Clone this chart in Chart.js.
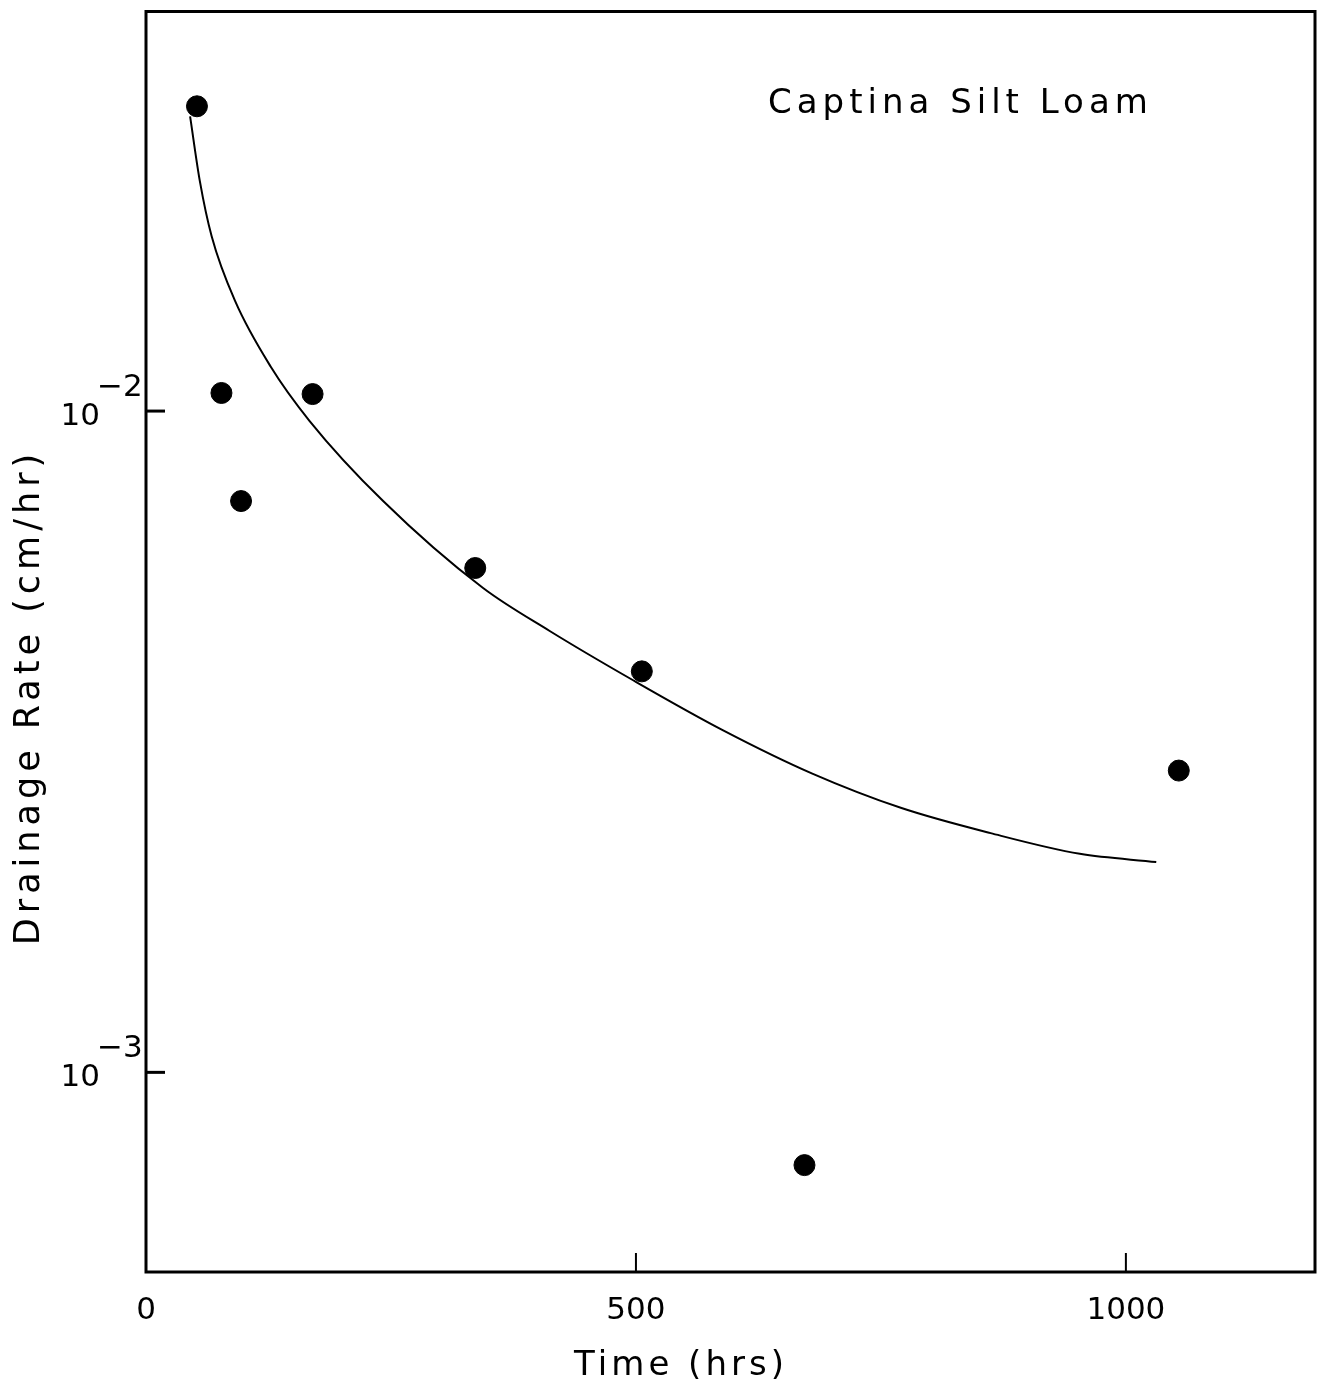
<!DOCTYPE html>
<html>
<head>
<meta charset="utf-8">
<script src="https://cdn.jsdelivr.net/npm/chart.js@4/dist/chart.umd.min.js"></script>
<style>
  body { margin: 0; background: #fff; }
  #wrap { width: 1333px; height: 1391px; }
</style>
</head>
<body>
<div id="wrap"><canvas id="chart" width="1333" height="1391"></canvas></div>
<script>
// measured points (hrs, cm/hr)
const timeObs = [52, 77, 97, 170, 336, 506, 672, 1054];
const rateObs = [0.0289, 0.01065, 0.00731, 0.01061, 0.00579, 0.00404, 0.000724, 0.00286];

// fitted curve
const timeFit = [45, 55, 67, 91, 127, 167, 242, 344, 412, 498, 589, 680, 771, 862, 953, 1031];
const rateFit = [0.0279, 0.02225, 0.01838, 0.01466, 0.01169, 0.00966, 0.00731, 0.0054, 0.00465, 0.00391, 0.00329, 0.00283, 0.00251, 0.0023, 0.00214, 0.00208];

// axis ticks
const xTicks = [0, 500, 1000];
const xTickLabels = ["0", "500", "1000"];
const yTicks = [0.01, 0.001];
const yTickExp = ["\u22122", "\u22123"];

const xTitle = "Time (hrs)";
const yTitle = "Drainage Rate (cm/hr)";
const note = "Captina Silt Loam";

const FONT = "'DejaVu Sans', sans-serif";

// border, inward ticks and all the lettering
const paperPlugin = {
  id: "paper",
  afterDraw(chart) {
    const ctx = chart.ctx;
    const a = chart.chartArea;
    const xs = chart.scales.x;
    const ys = chart.scales.y;
    ctx.save();
    ctx.strokeStyle = "#000";
    ctx.fillStyle = "#000";

    // frame
    ctx.lineWidth = 3;
    ctx.strokeRect(a.left, a.top, a.right - a.left, a.bottom - a.top);

    // y ticks
    ctx.lineWidth = 3;
    yTicks.forEach((v) => {
      const py = ys.getPixelForValue(v);
      ctx.beginPath();
      ctx.moveTo(a.left, py);
      ctx.lineTo(a.left + 19, py);
      ctx.stroke();
    });
    // x ticks (not at the corner)
    ctx.lineWidth = 2;
    xTicks.forEach((v) => {
      if (v === 0) return;
      const px = xs.getPixelForValue(v);
      ctx.beginPath();
      ctx.moveTo(px, a.bottom);
      ctx.lineTo(px, a.bottom - 19);
      ctx.stroke();
    });

    // y tick labels 10^n
    ctx.font = "31px " + FONT;
    ctx.textBaseline = "alphabetic";
    yTicks.forEach((v, k) => {
      const py = ys.getPixelForValue(v);
      ctx.textAlign = "right";
      ctx.fillText("10", 100, py + 14);
      ctx.textAlign = "left";
      ctx.fillText(yTickExp[k], 97, py - 15);
    });

    // x tick labels
    ctx.textAlign = "center";
    ctx.textBaseline = "top";
    xTicks.forEach((v, k) => {
      ctx.fillText(xTickLabels[k], xs.getPixelForValue(v), 1295);
    });

    // axis titles
    ctx.font = "34px " + FONT;
    ctx.letterSpacing = "4px";
    ctx.textBaseline = "middle";
    ctx.fillText(xTitle, 681, 1366);

    ctx.save();
    ctx.translate(30, 697);
    ctx.rotate(-Math.PI / 2);
    ctx.font = "35px " + FONT;
    ctx.letterSpacing = "5px";
    ctx.fillText(yTitle, 0, 0);
    ctx.restore();

    // note
    ctx.font = "34px " + FONT;
    ctx.letterSpacing = "5px";
    ctx.textAlign = "left";
    ctx.fillText(note, 768, 104);
    ctx.restore();
  },
};

const fitData = timeFit.map((t, k) => ({ x: t, y: rateFit[k] }));
const obsData = timeObs.map((t, k) => ({ x: t, y: rateObs[k] }));

new Chart(document.getElementById("chart"), {
  type: "scatter",
  data: {
    datasets: [
      {
        label: "fit",
        data: fitData,
        showLine: true,
        borderColor: "#000",
        borderWidth: 2,
        pointRadius: 0,
        cubicInterpolationMode: "monotone",
      },
      {
        label: "measured",
        data: obsData,
        backgroundColor: "#000",
        borderColor: "#000",
        pointRadius: 10.5,
        pointHoverRadius: 10.5,
      },
    ],
  },
  options: {
    responsive: false,
    animation: false,
    events: [],
    layout: { padding: { left: 146, top: 10, right: 18, bottom: 119 } },
    plugins: {
      legend: { display: false },
      tooltip: { enabled: false },
    },
    scales: {
      x: { type: "linear", min: 0, max: 1193, display: false },
      y: { type: "logarithmic", min: 0.000499, max: 0.0402, display: false },
    },
  },
  plugins: [paperPlugin],
});
</script>
</body>
</html>
